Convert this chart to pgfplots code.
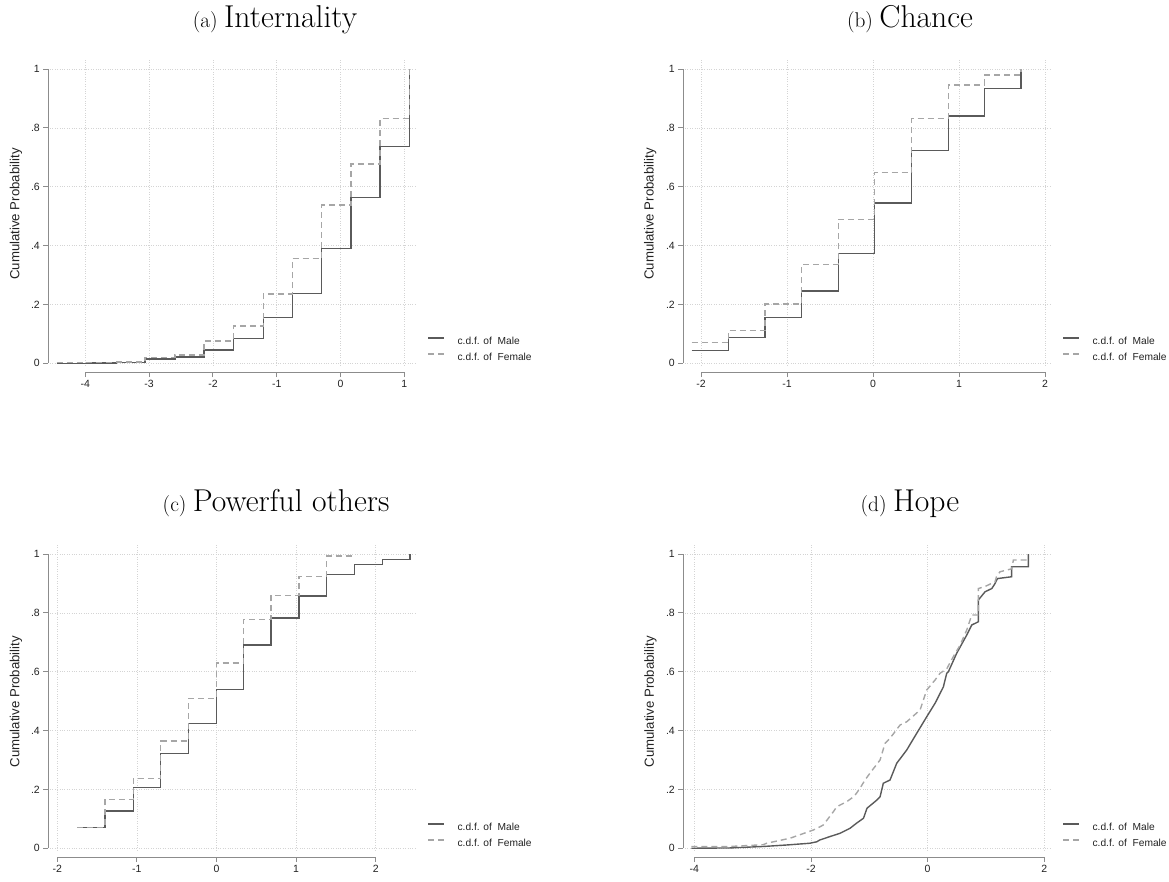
\documentclass[border=0pt]{standalone}
\usepackage{fontspec}
\usepackage{pgfplots}
\pgfplotsset{compat=1.18}
\newfontfamily\arial{Liberation Sans}
\definecolor{malec}{HTML}{5A5A5A}
\definecolor{femalec}{HTML}{A6A6A6}
\definecolor{axc}{HTML}{8C8C8C}
\definecolor{gridc}{HTML}{D4D4D4}
\definecolor{txtc}{HTML}{222222}
\tikzset{axline/.style={axc, line width=0.9pt}}

\pgfplotsset{
  cdfpanel/.style={
    scale only axis, width=367pt, height=305pt,
    ymin=-0.006, ymax=1.031,
    axis x line=bottom, axis y line=left, separate axis lines,
    axis line style={draw=none},
    axis x line shift=7pt, axis y line shift=1.7pt,
    tick align=outside, major tick length=5pt,
    every tick/.style={axc, line width=0.9pt},
    grid=major,
    major grid style={gridc, dotted, line width=0.8pt},
    ytick={0,0.2,0.4,0.6,0.8,1},
    yticklabels={0,.2,.4,.6,.8,1},
    tick label style={font=\arial\fontsize{10.5}{12}\selectfont, text=txtc},
    ylabel={Cumulative Probability},
    every axis title/.style={font=\rmfamily, anchor=base, inner sep=0pt},
    legend style={draw=none, fill=none, anchor=north west,
      font=\arial\fontsize{10.2}{12}\selectfont, text=txtc,
      inner sep=0pt, row sep=5.5pt,
      nodes={inner sep=0pt, text height=8pt, text depth=2.5pt},
      /tikz/every odd column/.append style={column sep=12.7pt}},
    legend cell align=left,
    legend image code/.code={\draw[##1] (0pt,3.5pt) -- (16pt,3.5pt);},
    clip=false,
  },
  male/.style={malec, line width=1.4pt, const plot},
  female/.style={femalec, line width=1.4pt, const plot, dash pattern=on 6pt off 4pt},
}
\newcommand{\ttl}[2]{{\fontsize{21.3}{23}\selectfont (#1)\ }{\fontsize{31.6}{34}\selectfont #2}}

\begin{document}
\begin{tikzpicture}
\useasboundingbox (0,0) rectangle (1169pt,-882pt);

% (a) Internality
\begin{axis}[cdfpanel, at={(50pt,-365pt)}, anchor=south west,
  xmin=-4.554, xmax=1.199,
  xtick={-4,-3,-2,-1,0,1}, xticklabels={-4,-3,-2,-1,0,1},
  title={\ttl{a}{Internality}}, title style={at={(0.613,1.108)}},
  ylabel style={at={(-0.0926,0.495)}, anchor=center, font=\arial\fontsize{13.2}{15}\selectfont, text=txtc},
  legend style={at={(1.028,0.095)}}]
\addplot[male] coordinates {(-4.45,0) (-3.98,0.001) (-3.52,0.003) (-3.065,0.015) (-2.595,0.0215) (-2.14,0.045) (-1.68,0.085) (-1.21,0.155) (-0.755,0.237) (-0.296,0.391) (0.164,0.563) (0.619,0.736) (1.078,1)};
\addlegendentry{c.d.f. of \ Male}
\addplot[female] coordinates {(-4.45,0.002) (-3.98,0.003) (-3.52,0.004) (-3.065,0.020) (-2.595,0.028) (-2.14,0.076) (-1.68,0.126) (-1.21,0.236) (-0.755,0.356) (-0.296,0.538) (0.164,0.678) (0.619,0.832) (1.078,1)};
\addlegendentry{c.d.f. of \ Female}
\draw[axline] ([yshift=-7pt]axis cs:-4,-0.006) -- ([yshift=-7pt]axis cs:1,-0.006);
\draw[axline] ([xshift=-1.7pt]axis cs:-4.554,0) -- ([xshift=-1.7pt]axis cs:-4.554,1);
\end{axis}

% (b) Chance
\begin{axis}[cdfpanel, at={(685pt,-365pt)}, anchor=south west,
  xmin=-2.186, xmax=2.081,
  xtick={-2,-1,0,1,2}, xticklabels={-2,-1,0,1,2},
  title={\ttl{b}{Chance}}, title style={at={(0.613,1.108)}},
  ylabel style={at={(-0.095,0.495)}, anchor=center, font=\arial\fontsize{13.2}{15}\selectfont, text=txtc},
  legend style={at={(1.028,0.095)}}]
\addplot[male] coordinates {(-2.109,0.043) (-1.682,0.088) (-1.256,0.155) (-0.829,0.245) (-0.403,0.374) (0.016,0.545) (0.450,0.724) (0.876,0.84) (1.295,0.934) (1.721,1)};
\addlegendentry{c.d.f. of \ Male}
\addplot[female] coordinates {(-2.109,0.070) (-1.682,0.111) (-1.256,0.202) (-0.829,0.336) (-0.403,0.489) (0.016,0.648) (0.450,0.832) (0.876,0.946) (1.295,0.98) (1.721,1)};
\addlegendentry{c.d.f. of \ Female}
\draw[axline] ([yshift=-7pt]axis cs:-2,-0.006) -- ([yshift=-7pt]axis cs:2,-0.006);
\draw[axline] ([xshift=-1.7pt]axis cs:-2.186,0) -- ([xshift=-1.7pt]axis cs:-2.186,1);
\end{axis}

% (c) Powerful others
\begin{axis}[cdfpanel, at={(50pt,-850pt)}, anchor=south west,
  xmin=-2.092, xmax=2.519,
  xtick={-2,-1,0,1,2}, xticklabels={-2,-1,0,1,2},
  title={\ttl{c}{Powerful others}}, title style={at={(0.616,1.111)}},
  ylabel style={at={(-0.0926,0.486)}, anchor=center, font=\arial\fontsize{13.2}{15}\selectfont, text=txtc},
  legend style={at={(1.028,0.092)}}]
\addplot[male] coordinates {(-1.749,0.070) (-1.401,0.127) (-1.045,0.206) (-0.702,0.323) (-0.354,0.425) (-0.002,0.540) (0.341,0.691) (0.685,0.783) (1.037,0.857) (1.384,0.931) (1.732,0.965) (2.084,0.982) (2.431,1)};
\addlegendentry{c.d.f. of \ Male}
\addplot[female] coordinates {(-1.749,0.070) (-1.401,0.166) (-1.045,0.238) (-0.702,0.365) (-0.354,0.51) (-0.002,0.630) (0.341,0.777) (0.685,0.860) (1.037,0.923) (1.384,0.994) (1.732,0.994)};
\addlegendentry{c.d.f. of \ Female}
\draw[axline] ([yshift=-7pt]axis cs:-2,-0.006) -- ([yshift=-7pt]axis cs:2,-0.006);
\draw[axline] ([xshift=-1.7pt]axis cs:-2.092,0) -- ([xshift=-1.7pt]axis cs:-2.092,1);
\end{axis}

% (d) Hope
\begin{axis}[cdfpanel, at={(685pt,-850pt)}, anchor=south west,
  xmin=-4.16, xmax=2.132,
  xtick={-4,-2,0,2}, xticklabels={-4,-2,0,2},
  title={\ttl{d}{Hope}}, title style={at={(0.613,1.111)}},
  ylabel style={at={(-0.094,0.486)}, anchor=center, font=\arial\fontsize{13.2}{15}\selectfont, text=txtc},
  legend style={at={(1.028,0.092)}}]
\addplot[male, sharp plot] coordinates {(-4.05,0) (-3.39,0.001) (-2.82,0.006) (-2.42,0.011) (-2.02,0.017) (-1.90,0.022) (-1.85,0.028) (-1.67,0.040) (-1.5,0.051) (-1.33,0.068) (-1.22,0.085) (-1.10,0.102) (-1.04,0.136) (-0.87,0.164) (-0.816,0.175) (-0.76,0.221) (-0.645,0.232) (-0.53,0.289) (-0.359,0.334) (-0.187,0.391) (-0.016,0.447) (0.127,0.493) (0.156,0.504) (0.27,0.549) (0.327,0.595) (0.355,0.6) (0.498,0.663) (0.67,0.725) (0.756,0.759) (0.869,0.77) (0.869,0.844) (0.984,0.872) (1.1,0.883) (1.155,0.9) (1.18,0.911) (1.2,0.917) (1.44,0.923) (1.44,0.957) (1.726,0.957) (1.726,1)};
\addlegendentry{c.d.f. of \ Male}
\addplot[female, sharp plot] coordinates {(-4.05,0.006) (-3.39,0.006) (-2.82,0.012) (-2.76,0.017) (-2.36,0.034) (-1.96,0.062) (-1.845,0.073) (-1.79,0.079) (-1.617,0.124) (-1.56,0.141) (-1.39,0.158) (-1.27,0.175) (-1.22,0.187) (-1.16,0.204) (-1.074,0.232) (-0.99,0.255) (-0.816,0.30) (-0.73,0.357) (-0.645,0.374) (-0.473,0.419) (-0.359,0.43) (-0.13,0.47) (-0.016,0.538) (0.127,0.572) (0.212,0.595) (0.327,0.61) (0.45,0.655) (0.555,0.69) (0.67,0.742) (0.756,0.793) (0.869,0.793) (0.869,0.883) (0.984,0.89) (1.155,0.906) (1.18,0.923) (1.24,0.94) (1.44,0.95) (1.47,0.98) (1.726,0.98)};
\addlegendentry{c.d.f. of \ Female}
\draw[axline] ([yshift=-7pt]axis cs:-4,-0.006) -- ([yshift=-7pt]axis cs:2,-0.006);
\draw[axline] ([xshift=-1.7pt]axis cs:-4.16,0) -- ([xshift=-1.7pt]axis cs:-4.16,1);
\end{axis}
\end{tikzpicture}
\end{document}
